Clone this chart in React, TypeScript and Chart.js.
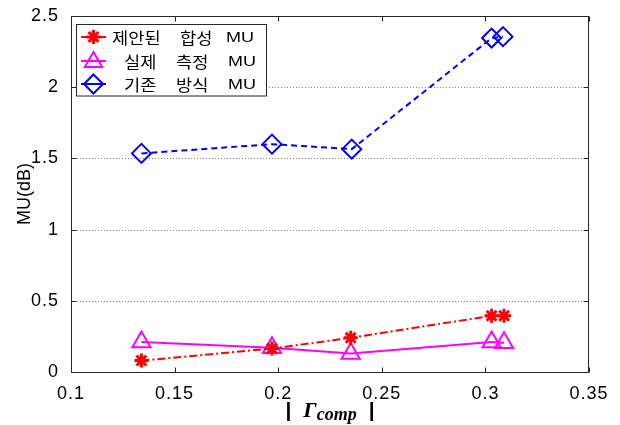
import React, { useEffect, useRef } from 'react';
import { Chart, registerables } from 'chart.js';

Chart.register(...registerables);

// ---- data ----
const gammaComp = [0.134, 0.197, 0.235, 0.303, 0.309];
const conventionalX = [0.134, 0.197, 0.2355, 0.303, 0.3085];
const proposedMU = [0.08, 0.165, 0.24, 0.395, 0.395];
const measuredMU = [0.21, 0.17, 0.13, 0.21, 0.205];
const conventionalMU = [1.535, 1.6, 1.565, 2.345, 2.355];
const xTicks = [0.1, 0.15, 0.2, 0.25, 0.3, 0.35];
const yTicks = [0, 0.5, 1, 1.5, 2, 2.5];
const legendWords = [
  ['제안된', '합성', 'MU'],
  ['실제', '측정', 'MU'],
  ['기존', '방식', 'MU'],
];
const yTitle = 'MU(dB)';

const RED = '#ff0000';
const MAGENTA = '#ff00ff';
const BLUE = '#0000ff';
const FRAME = '#262626';
const SANS = '"Liberation Sans", Arial, "Noto Sans CJK KR", sans-serif';
const KR = '"Noto Sans CJK KR", "Noto Sans CJK SC", sans-serif';
const SERIF = '"Liberation Serif", "Times New Roman", serif';

function drawStar(ctx: CanvasRenderingContext2D, x: number, y: number, r: number) {
  ctx.beginPath();
  for (let i = 0; i < 4; i++) {
    const a = (i * Math.PI) / 4;
    ctx.moveTo(x + Math.cos(a) * r, y + Math.sin(a) * r);
    ctx.lineTo(x - Math.cos(a) * r, y - Math.sin(a) * r);
  }
  ctx.stroke();
}
function drawTriangle(ctx: CanvasRenderingContext2D, x: number, y: number, r: number) {
  ctx.beginPath();
  for (let i = 0; i < 3; i++) {
    const a = (i * 2 * Math.PI) / 3;
    const px = x + Math.sin(a) * r;
    const py = y - Math.cos(a) * r;
    if (i === 0) ctx.moveTo(px, py);
    else ctx.lineTo(px, py);
  }
  ctx.closePath();
  ctx.stroke();
}
function drawDiamond(ctx: CanvasRenderingContext2D, x: number, y: number, r: number) {
  ctx.beginPath();
  ctx.moveTo(x, y - r);
  ctx.lineTo(x + r, y);
  ctx.lineTo(x, y + r);
  ctx.lineTo(x - r, y);
  ctx.closePath();
  ctx.stroke();
}

const decorPlugin = {
  id: 'decor',
  beforeDraw(chart: any) {
    // slightly wider tick text, like the reference
    try { (chart.ctx as any).letterSpacing = '1px'; } catch (e) {}
  },
  beforeDatasetsDraw(chart: any) {
    const { ctx, chartArea: a, scales } = chart;
    const y = scales.y;
    ctx.save();
    ctx.strokeStyle = '#8a8a8a';
    ctx.lineWidth = 1;
    ctx.setLineDash([1, 2]);
    yTicks.forEach((v) => {
      if (v <= y.min || v >= y.max) return;
      const py = Math.round(y.getPixelForValue(v)) + 0.5;
      ctx.beginPath();
      ctx.moveTo(a.left, py);
      ctx.lineTo(a.right, py);
      ctx.stroke();
    });
    ctx.restore();
  },
  afterDraw(chart: any) {
    const { ctx, chartArea: a, scales } = chart;
    try { (ctx as any).letterSpacing = '0px'; } catch (e) {}
    const x = scales.x;
    const y = scales.y;
    const L = Math.round(a.left) + 0.5;
    const R = Math.round(a.right) - 0.5;
    const T = Math.round(a.top) + 0.5;
    const B = Math.round(a.bottom) + 0.5;
    ctx.save();
    // frame
    ctx.strokeStyle = FRAME;
    ctx.lineWidth = 1;
    ctx.setLineDash([]);
    ctx.strokeRect(L, T, R - L, B - T);
    // inward tick marks
    const tl = 5;
    ctx.beginPath();
    xTicks.forEach((v) => {
      const px = Math.round(x.getPixelForValue(v)) + 0.5;
      ctx.moveTo(px, B);
      ctx.lineTo(px, B - tl);
      ctx.moveTo(px, T);
      ctx.lineTo(px, T + tl);
    });
    yTicks.forEach((v) => {
      const py = Math.round(y.getPixelForValue(v)) + 0.5;
      ctx.moveTo(L, py);
      ctx.lineTo(L + tl, py);
      ctx.moveTo(R, py);
      ctx.lineTo(R - tl, py);
    });
    ctx.stroke();

    // legend
    const lx = 76.5, ly = 24.5, lw = 190, lh = 71.5;
    ctx.fillStyle = '#ffffff';
    ctx.fillRect(lx, ly, lw, lh);
    ctx.strokeStyle = FRAME;
    ctx.strokeRect(lx, ly, lw, lh);
    const rowsY = [37, 61, 84];
    const colors = [RED, MAGENTA, BLUE];
    const wordX = [
      [112, 180, 226],
      [124, 176, 228],
      [124, 176, 228],
    ];
    rowsY.forEach((ry, i) => {
      ctx.strokeStyle = colors[i];
      ctx.lineWidth = 2;
      ctx.beginPath();
      ctx.moveTo(81, ry);
      ctx.lineTo(106, ry);
      ctx.stroke();
      if (i === 0) { ctx.lineWidth = 3; drawStar(ctx, 93.5, ry, 7); }
      if (i === 1) drawTriangle(ctx, 93.5, ry + 1, 10);
      if (i === 2) drawDiamond(ctx, 93.5, ry, 9.5);
      ctx.fillStyle = '#000';
      ctx.textBaseline = 'middle';
      ctx.textAlign = 'left';
      legendWords[i].forEach((w, j) => {
        ctx.save();
        ctx.translate(wordX[i][j], ry + 1);
        if (w === 'MU') {
          ctx.scale(1.2, 1);
          ctx.font = `15px ${SANS}`;
        } else {
          ctx.scale(1.1, 1);
          ctx.font = `16px ${KR}`;
        }
        ctx.fillText(w, 0, 0);
        ctx.restore();
      });
    });

    // y title
    ctx.save();
    ctx.translate(25, (a.top + a.bottom) / 2);
    ctx.rotate(-Math.PI / 2);
    ctx.fillStyle = '#000';
    ctx.font = `18px ${SANS}`;
    ctx.textAlign = 'center';
    ctx.textBaseline = 'middle';
    ctx.fillText(yTitle, 0, 0);
    ctx.restore();

    // x title: | Γcomp |
    const cx = (a.left + a.right) / 2;
    const parts = [
      { t: '|', f: `bold 21px ${SANS}`, dy: 0, gap: 12 },
      { t: 'Γ', f: `bold italic 22px ${SERIF}`, dy: 0, gap: 0 },
      { t: 'comp', f: `bold italic 18px ${SERIF}`, dy: 3, gap: 12 },
      { t: '|', f: `bold 21px ${SANS}`, dy: 0, gap: 0 },
    ];
    let total = 0;
    parts.forEach((p) => {
      ctx.font = p.f;
      total += ctx.measureText(p.t).width + p.gap;
    });
    let px = cx - total / 2;
    ctx.fillStyle = '#000';
    ctx.textAlign = 'left';
    ctx.textBaseline = 'alphabetic';
    parts.forEach((p) => {
      ctx.font = p.f;
      ctx.fillText(p.t, px, 417 + p.dy);
      px += ctx.measureText(p.t).width + p.gap;
    });
    ctx.restore();
  },
};

export default function App() {
  const ref = useRef<HTMLCanvasElement | null>(null);
  useEffect(() => {
    if (!ref.current) return;
    const tickFont = { family: SANS, size: 18 };
    const chart = new Chart(ref.current, {
      type: 'scatter',
      data: {
        datasets: [
          {
            label: '제안된 합성 MU',
            data: gammaComp.map((x, i) => ({ x, y: proposedMU[i] })),
            showLine: true,
            borderColor: RED,
            borderWidth: 2,
            borderDash: [8, 3, 2, 3],
            pointStyle: 'star',
            pointRadius: 7,
            pointBorderWidth: 3,
            pointBorderColor: RED,
            pointBackgroundColor: RED,
          },
          {
            label: '실제 측정 MU',
            data: gammaComp.map((x, i) => ({ x, y: measuredMU[i] })),
            showLine: true,
            borderColor: MAGENTA,
            borderWidth: 2,
            pointStyle: 'triangle',
            pointRadius: 10.5,
            pointBorderWidth: 2,
            pointBorderColor: MAGENTA,
            pointBackgroundColor: 'rgba(0,0,0,0)',
          },
          {
            label: '기존 방식 MU',
            data: conventionalX.map((x, i) => ({ x, y: conventionalMU[i] })),
            showLine: true,
            borderColor: BLUE,
            borderWidth: 2,
            borderDash: [6, 4],
            pointStyle: 'rectRot',
            pointRadius: 9.5,
            pointBorderWidth: 2,
            pointBorderColor: BLUE,
            pointBackgroundColor: 'rgba(0,0,0,0)',
          },
        ],
      },
      options: {
        responsive: false,
        animation: false,
        devicePixelRatio: 1,
        layout: { padding: { top: 16, right: 31, left: 0, bottom: 0 } },
        plugins: { legend: { display: false }, tooltip: { enabled: false } },
        scales: {
          x: {
            type: 'linear',
            min: 0.1,
            max: 0.35,
            grid: { display: false },
            border: { display: false },
            afterBuildTicks: (s: any) => {
              s.ticks = xTicks.map((v) => ({ value: v }));
            },
            afterFit: (s: any) => {
              s.height = 53;
            },
            ticks: {
              font: tickFont,
              color: '#000',
              padding: 3,
              maxRotation: 0,
              autoSkip: false,
              callback: (v: any) => String(v),
            },
          },
          y: {
            type: 'linear',
            min: 0,
            max: 2.5,
            grid: { display: false },
            border: { display: false },
            afterBuildTicks: (s: any) => {
              s.ticks = yTicks.map((v) => ({ value: v }));
            },
            afterFit: (s: any) => {
              s.width = 71;
            },
            ticks: {
              font: tickFont,
              color: '#000',
              padding: 4,
              autoSkip: false,
              callback: (v: any) => String(v),
            },
          },
        },
      },
      plugins: [decorPlugin],
    } as any);
    return () => chart.destroy();
  }, []);
  return (
    <div style={{ position: 'fixed', left: 0, top: 0, width: 620, height: 425, background: '#fff' }}>
      <canvas ref={ref} width={620} height={425} style={{ display: 'block' }} />
    </div>
  );
}
